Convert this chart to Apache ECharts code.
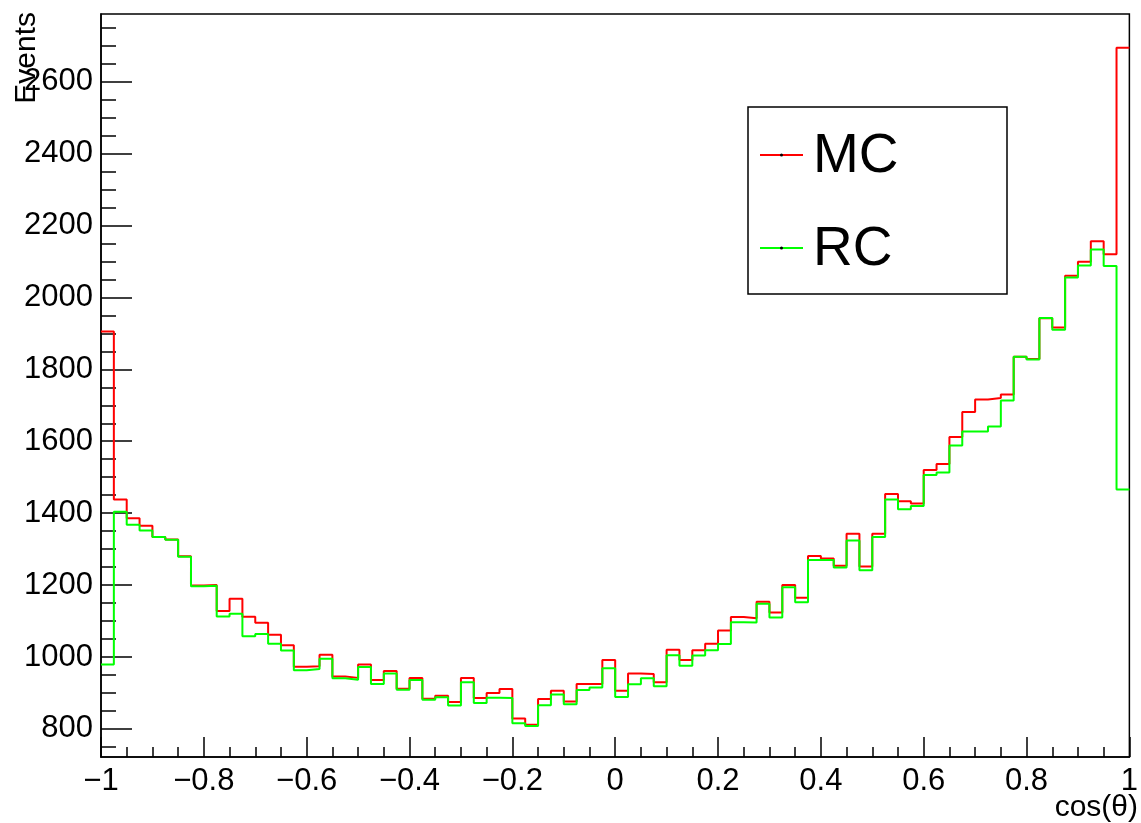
<!DOCTYPE html>
<html>
<head>
<meta charset="utf-8">
<script src="https://cdn.jsdelivr.net/npm/echarts@6/dist/echarts.min.js"></script>
<style>
html,body{margin:0;padding:0;background:#fff;}
#chart{width:1141px;height:823px;}
</style>
</head>
<body>
<div id="chart"></div>
<script>
// Histogram binning: 80 bins over cos(theta) in [-1, 1]
const xMin = -1, xMax = 1, nBins = 80;
// Bin contents
const mcCounts = [1905,1438,1386,1365,1334,1327,1280,1199,1200,1128,
  1162,1112,1095,1062,1033,973,974,1006,946,942,
  979,936,961,912,942,884,892,875,942,886,
  900,911,829,812,883,906,876,925,925,992,
  906,954,953,930,1020,992,1019,1037,1074,1111,
  1108,1154,1124,1200,1165,1281,1274,1254,1343,1252,
  1343,1453,1433,1427,1520,1537,1612,1681,1716,1720,
  1730,1835,1829,1942,1916,2060,2099,2156,2120,2694];
const rcCounts = [979,1404,1368,1352,1334,1326,1279,1197,1198,1113,
  1120,1058,1064,1037,1018,963,967,995,941,937,
  972,925,954,909,936,881,888,865,930,872,
  887,886,816,808,866,896,869,908,915,969,
  889,924,941,919,1005,976,1004,1019,1036,1097,
  1096,1148,1110,1194,1152,1270,1270,1249,1324,1241,
  1334,1438,1411,1420,1506,1513,1588,1627,1627,1641,
  1713,1835,1827,1943,1910,2055,2089,2133,2087,1466];
const yMajorTicks = [800,1000,1200,1400,1600,1800,2000,2200,2400,2600];
const yMinorTicks = [750,800,850,900,950,1000,1050,1100,1150,1200,1250,1300,1350,1400,1450,1500,1550,1600,1650,1700,1750,1800,1850,1900,1950,2000,2050,2100,2150,2200,2250,2300,2350,2400,2450,2500,2550,2600,2650,2700,2750];
const seriesNames = ['MC','RC'];
const yRange = [722, 2788];

function stepData(counts){
  const w = (xMax - xMin) / counts.length;
  const d = counts.map((v,i)=>[xMin + i*w, v]);
  d.push([xMax, counts[counts.length-1]]);
  return d;
}
function fmtX(v){
  const r = Math.round(v*10)/10;
  if (Math.abs(r) < 1e-9) return '0';
  const s = Math.abs(r).toString();
  return (r < 0 ? '\u2212' : '') + s;
}
const FONT = 'Liberation Sans, Arial, Helvetica, sans-serif';
const chart = echarts.init(document.getElementById('chart'));
chart.setOption({
  animation:false,
  backgroundColor:'#fff',
  grid:{left:101, right:6, top:14, bottom:66, show:true, borderColor:'#000', borderWidth:1.5, backgroundColor:'transparent'},
  xAxis:{type:'value', min:xMin, max:xMax, interval:0.2,
    axisLine:{show:true, onZero:false, lineStyle:{color:'#000', width:1.5}},
    axisTick:{show:true, inside:true, length:20, lineStyle:{color:'#000', width:1.5}},
    minorTick:{show:true, splitNumber:4, length:10, lineStyle:{color:'#000', width:1.5}},
    splitLine:{show:false},
    axisLabel:{formatter:fmtX, color:'#000', fontSize:31, fontFamily:FONT, margin:9, showMinLabel:true, showMaxLabel:true}
  },
  yAxis:[
    {type:'value', min:yRange[0], max:yRange[1],
      axisLine:{show:true, onZero:false, lineStyle:{color:'#000', width:1.5}},
      axisTick:{show:true, inside:true, length:31, customValues:yMajorTicks, lineStyle:{color:'#000', width:1.5}},
      splitLine:{show:false},
      axisLabel:{customValues:yMajorTicks, formatter:(v)=>String(v), color:'#000', fontSize:31, fontFamily:FONT, margin:8}
    },
    {type:'value', min:yRange[0], max:yRange[1], position:'left',
      axisLine:{show:false, onZero:false},
      axisTick:{show:true, inside:true, length:15, customValues:yMinorTicks, lineStyle:{color:'#000', width:1.5}},
      splitLine:{show:false},
      axisLabel:{show:false}
    }
  ],
  series:[
    {name:seriesNames[0], type:'line', step:'end', data:stepData(mcCounts), showSymbol:false, yAxisIndex:0,
     lineStyle:{color:'#ff0000', width:2}, itemStyle:{color:'#ff0000'}, z:2},
    {name:seriesNames[1], type:'line', step:'end', data:stepData(rcCounts), showSymbol:false, yAxisIndex:0,
     lineStyle:{color:'#00ff00', width:2}, itemStyle:{color:'#00ff00'}, z:3}
  ],
  graphic:[
    {type:'text', x:42, y:12, rotation:Math.PI/2, style:{text:'Events', font:'30px '+FONT, fill:'#000', textAlign:'right', textVerticalAlign:'bottom'}},
    {type:'text', x:1138, y:808, style:{text:'cos(\u03b8)', font:'30px '+FONT, fill:'#000', textAlign:'right', textVerticalAlign:'middle'}},
    {type:'rect', shape:{x:748, y:107, width:259, height:187}, style:{fill:'#fff', stroke:'#000', lineWidth:1.5}, z:10},
    {type:'line', shape:{x1:760, y1:155, x2:803, y2:155}, style:{stroke:'#ff0000', lineWidth:2}, z:11},
    {type:'circle', shape:{cx:781.5, cy:155, r:1.5}, style:{fill:'#000'}, z:12},
    {type:'text', x:813, y:157, style:{text:seriesNames[0], font:'55px '+FONT, fill:'#000', textAlign:'left', textVerticalAlign:'middle'}, z:11},
    {type:'line', shape:{x1:760, y1:248, x2:803, y2:248}, style:{stroke:'#00ff00', lineWidth:2}, z:11},
    {type:'circle', shape:{cx:781.5, cy:248, r:1.5}, style:{fill:'#000'}, z:12},
    {type:'text', x:813, y:250, style:{text:seriesNames[1], font:'55px '+FONT, fill:'#000', textAlign:'left', textVerticalAlign:'middle'}, z:11}
  ]
});
</script>
</body>
</html>
